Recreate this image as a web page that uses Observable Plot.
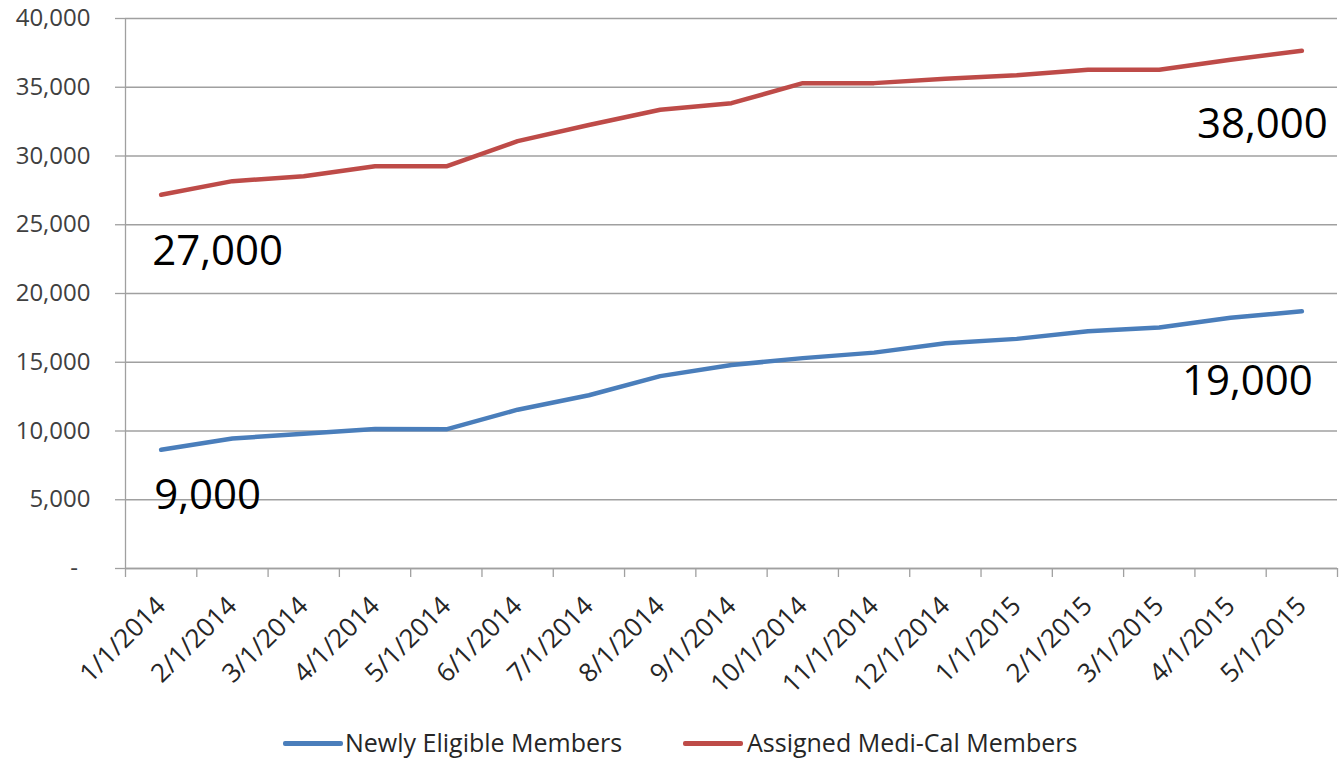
<!DOCTYPE html>
<html>
<head>
<meta charset="utf-8">
<script src="https://cdn.jsdelivr.net/npm/d3@7"></script>
<script src="https://cdn.jsdelivr.net/npm/@observablehq/plot@0.6"></script>
<style>
  body { margin: 0; background: #fff; font-family: "Open Sans", sans-serif; }
  #wrap { position: relative; width: 1340px; height: 758px; overflow: hidden; }
  .sw { position: absolute; height: 5px; border-radius: 2px; }
  .lt { position: absolute; font-size: 25px; color: #262626; line-height: 1; white-space: nowrap; }
</style>
</head>
<body>
<div id="wrap"></div>
<script>
// ---- data ----
const months = ["1/1/2014","2/1/2014","3/1/2014","4/1/2014","5/1/2014","6/1/2014","7/1/2014","8/1/2014","9/1/2014","10/1/2014","11/1/2014","12/1/2014","1/1/2015","2/1/2015","3/1/2015","4/1/2015","5/1/2015"];
const newlyEligible = [8630, 9450, 9800, 10150, 10120, 11550, 12600, 13990, 14800, 15300, 15700, 16380, 16700, 17250, 17530, 18230, 18710];
const assignedMediCal = [27180, 28170, 28520, 29250, 29250, 31080, 32250, 33360, 33840, 35300, 35300, 35620, 35880, 36280, 36280, 37000, 37650];
const seriesNames = ["Newly Eligible Members", "Assigned Medi-Cal Members"];
const seriesColors = ["#4a7ebb", "#be4b48"];
const yTicks = [0, 5000, 10000, 15000, 20000, 25000, 30000, 35000, 40000];
const annotationLabels = ["27,000", "38,000", "9,000", "19,000"];

const rows = months.flatMap((m, i) => [
  {i, month: m, series: seriesNames[0], value: newlyEligible[i]},
  {i, month: m, series: seriesNames[1], value: assignedMediCal[i]}
]);
const last = months.length - 1;
const boundaries = d3.range(months.length + 1).map(k => k - 0.5);
const gray = "#a0a0a0";

const chart = Plot.plot({
  width: 1340,
  height: 705,
  marginLeft: 125,
  marginRight: 3,
  marginTop: 18,
  marginBottom: 137,
  style: {fontFamily: "'Open Sans', sans-serif", fontSize: "24px", color: "#404040", background: "white", overflow: "visible"},
  x: {type: "linear", domain: [-0.5, months.length - 0.5], axis: null},
  y: {domain: [0, 40000], axis: null},
  color: {domain: seriesNames, range: seriesColors},
  marks: [
    Plot.gridY({ticks: yTicks, stroke: gray, strokeOpacity: 1, strokeWidth: 1.3}),
    Plot.axisY({ticks: yTicks, label: null, tickSize: 10, tickPadding: 25, stroke: gray, strokeWidth: 1.3, fill: "#404040", fontSize: 24,
      tickFormat: d => d === 0 ? "-\u00a0\u00a0" : d3.format(",")(d)}),
    Plot.axisX({ticks: boundaries, label: null, tickSize: 9, stroke: gray, strokeWidth: 1.3, tickFormat: () => ""}),
    Plot.axisX({ticks: d3.range(months.length), label: null, tickSize: 0, tickPadding: 33, tickRotate: -45, fontSize: 26, fill: "#262626",
      tickFormat: i => months[i]}),
    Plot.ruleY([0], {stroke: gray, strokeWidth: 1.3}),
    Plot.ruleX([-0.5], {stroke: gray, strokeWidth: 1.3}),
    Plot.lineY(rows, {x: "i", y: "value", stroke: "series", strokeWidth: 4.5, strokeLinecap: "round", strokeLinejoin: "round"}),
    Plot.text([{i: 0, value: assignedMediCal[0]}], {x: "i", y: "value", text: () => annotationLabels[0], textAnchor: "start", dx: -9, dy: 57, fontSize: 42, fill: "#000"}),
    Plot.text([{i: last, value: assignedMediCal[last]}], {x: "i", y: "value", text: () => annotationLabels[1], textAnchor: "end", dx: 26, dy: 74, fontSize: 42, fill: "#000"}),
    Plot.text([{i: 0, value: newlyEligible[0]}], {x: "i", y: "value", text: () => annotationLabels[2], textAnchor: "start", dx: -7, dy: 46, fontSize: 42, fill: "#000"}),
    Plot.text([{i: last, value: newlyEligible[last]}], {x: "i", y: "value", text: () => annotationLabels[3], textAnchor: "end", dx: 11, dy: 70, fontSize: 42, fill: "#000"})
  ]
});

const wrap = document.getElementById("wrap");
chart.style.position = "absolute";
chart.style.left = "0px";
chart.style.top = "0px";
wrap.appendChild(chart);

// legend
const legendPos = [{sw: 283, tx: 345}, {sw: 683, tx: 747}];
seriesNames.forEach((name, k) => {
  const sw = document.createElement("div");
  sw.className = "sw";
  sw.style.left = legendPos[k].sw + "px";
  sw.style.top = "741px";
  sw.style.width = "60px";
  sw.style.background = seriesColors[k];
  wrap.appendChild(sw);
  const t = document.createElement("div");
  t.className = "lt";
  t.style.left = legendPos[k].tx + "px";
  t.style.top = "730px";
  t.textContent = name;
  wrap.appendChild(t);
});
</script>
</body>
</html>
